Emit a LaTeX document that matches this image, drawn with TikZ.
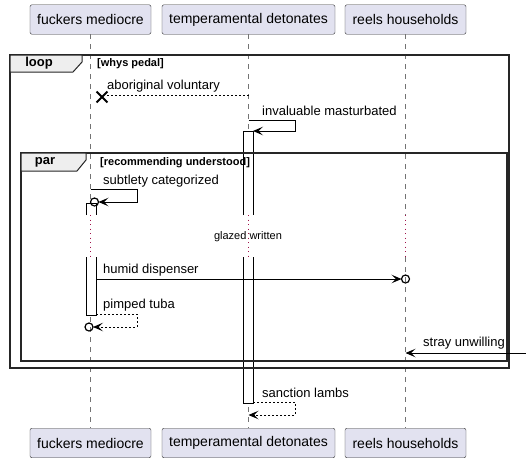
\documentclass[tikz,border=0pt]{standalone}
\usepackage{fontspec}
\setmainfont{Liberation Sans}
\usetikzlibrary{positioning,arrows.meta,shapes.misc}
\definecolor{boxfill}{HTML}{E2E2F0}
\definecolor{tabfill}{HTML}{EEEEEE}
\definecolor{delaydot}{HTML}{A0124A}
\tikzset{
participant/.style = {draw=black!80, fill=boxfill, rounded corners=2pt, minimum width=#1, minimum height=29.5pt, inner sep=0pt, font=\fontsize{14}{16}\selectfont},
participant/.default = 121pt % width of the box
}
\tikzset{lifeline/.style={draw=black!55, line width=0.8pt, dash pattern=on 5pt off 5pt}}
\tikzset{delayline/.style={draw=delaydot, line width=1pt, dash pattern=on 1pt off 3.5pt}}
\tikzset{actbar/.style={fill=white, minimum width=10pt, inner sep=0pt, outer sep=0pt}}
\tikzset{msg/.style={line width=0.9pt, -{Stealth[length=10pt,width=8.5pt,inset=4.5pt]}}}
\tikzset{reply/.style={msg, dash pattern=on 2pt off 2pt}}
\tikzset{ocirc/.style={circle, draw, line width=1.2pt, minimum size=8pt, inner sep=0pt, outer sep=0pt}}
\tikzset{lostx/.style={cross out, draw, line width=1.8pt, minimum size=9pt, inner sep=0pt}}
\tikzset{msglabel/.style={anchor=west, inner sep=0pt, font=\fontsize{13}{15}\selectfont}}
\tikzset{framebox/.style={draw=black!85, line width=1.6pt, inner sep=0pt, outer sep=0pt}}
\tikzset{tab/.style={draw=black!85, fill=tabfill, line width=1pt}}
\tikzset{keyword/.style={inner sep=0pt, font=\fontsize{13}{15}\selectfont\bfseries}}
\tikzset{cond/.style={anchor=west, inner sep=0pt, font=\fontsize{11}{13}\selectfont\bfseries}}

\begin{document}
\begin{tikzpicture}[x=1pt, y=-1pt]
      \useasboundingbox (0,0) rectangle (526,464);
      % participants
      \node [participant] (fmtop) at (90.5,19.5) {fuckers mediocre};
      \node [participant=173pt] (tdtop) at (248.5,19.5) {temperamental detonates};
      \node [participant] (rhtop) at (405.5,19.5) {reels households};
      \node [participant] (fmbot) at (90.5,443) {fuckers mediocre};
      \node [participant=173pt] (tdbot) at (248.5,443) {temperamental detonates};
      \node [participant] (rhbot) at (405.5,443) {reels households};
      % lifelines, broken by the delay
      \coordinate (delaytop) at (0,215);
      \coordinate (delaybot) at (0,257);
      \foreach \p in {fm,td,rh} {
        \draw [lifeline] (\p top.south) -- (\p top.south |- delaytop);
        \draw [delayline] (\p top.south |- delaytop) -- (\p top.south |- delaybot);
        \draw [lifeline] (\p top.south |- delaybot) -- (\p bot.north);
      }
      % activation bars
      \node [actbar, minimum height=84pt] (tdbara) at (248,173) {};
      \node [actbar, minimum height=146pt] (tdbarb) at (248,330) {};
      \node [actbar, minimum height=12pt] (fmbara) at (91,209) {};
      \node [actbar, minimum height=58pt] (fmbarb) at (91,286) {};
      \foreach \b in {tdbara,fmbara}
        \draw (\b.south west) |- (\b.north east) -- (\b.south east);
      \foreach \b in {tdbarb,fmbarb}
        \draw (\b.north west) |- (\b.south east) -- (\b.north east);
      % loop frame
      \node [framebox, minimum width=499pt, minimum height=313pt] (loop) at (259.5,211.5) {};
      \draw [tab] (loop.north west) -- ++(72,0) -- ++(0,7) -- ++(-9,10) -- ++(-63,0) -- cycle;
      \node [keyword] (looplbl) at (39,63.5) {loop};
      \node [cond] (loopcond) at (97,64) {[whys pedal]};
      % par frame
      \node [framebox, minimum width=486pt, minimum height=208pt] (par) at (264,257) {};
      \draw [tab] (par.north west) -- ++(65,0) -- ++(0,7) -- ++(-9,11) -- ++(-56,0) -- cycle;
      \node [keyword] (parlbl) at (45,162.5) {par};
      \node [cond] (parcond) at (100,163) {[recommending understood]};
      % messages
      \node [lostx] (lost) at (102,97) {};
      \coordinate (r1) at (0,95);
      \draw [dash pattern=on 2pt off 2pt, line width=0.9pt] (tdtop.south |- r1) -- (lost.east |- r1);
      \node [msglabel] (m1) at (107,86) {aboriginal voluntary};

      \coordinate (r2) at (0,120);
      \coordinate (turn2) at (295,131);
      \draw [msg] (tdtop.south |- r2) -| (turn2) -- (tdbara.north east);
      \node [msglabel] (m2) at (262,111) {invaluable masturbated};

      \node [ocirc] (circa) at (94.5,202) {};
      \coordinate (r3) at (0,189);
      \coordinate (turn3) at (137,202);
      \draw [msg] (fmtop.south |- r3) -| (turn3) -- (circa.east);
      \node [msglabel] (m3) at (103,181) {subtlety categorized};

      \node [font=\fontsize{11}{13}\selectfont, inner sep=0pt] (delay) at (248,237) {glazed written};

      \node [ocirc] (circb) at (405.5,279) {};
      \draw [msg] (fmbarb.east |- circb) -- (circb.west);
      \node [msglabel] (m4) at (103,270) {humid dispenser};

      \node [ocirc] (circc) at (89,327) {};
      \coordinate (turn5) at (137,327);
      \draw [reply] (fmbarb.south east) ++(0,-1) -| (turn5) -- (circc.east);
      \node [msglabel] (m5) at (103,305) {pimped tuba};

      \coordinate (edge) at (527,353);
      \draw [msg] (edge) -- (rhtop.south |- edge);
      \node [msglabel] (m6) at (423,343) {stray unwilling};

      \coordinate (turn7) at (295,415);
      \draw [reply] (tdbarb.south east) ++(0,-1) -| (turn7) -- (tdtop.south |- turn7);
      \node [msglabel] (m7) at (262,393) {sanction lambs};
\end{tikzpicture}
\end{document}
